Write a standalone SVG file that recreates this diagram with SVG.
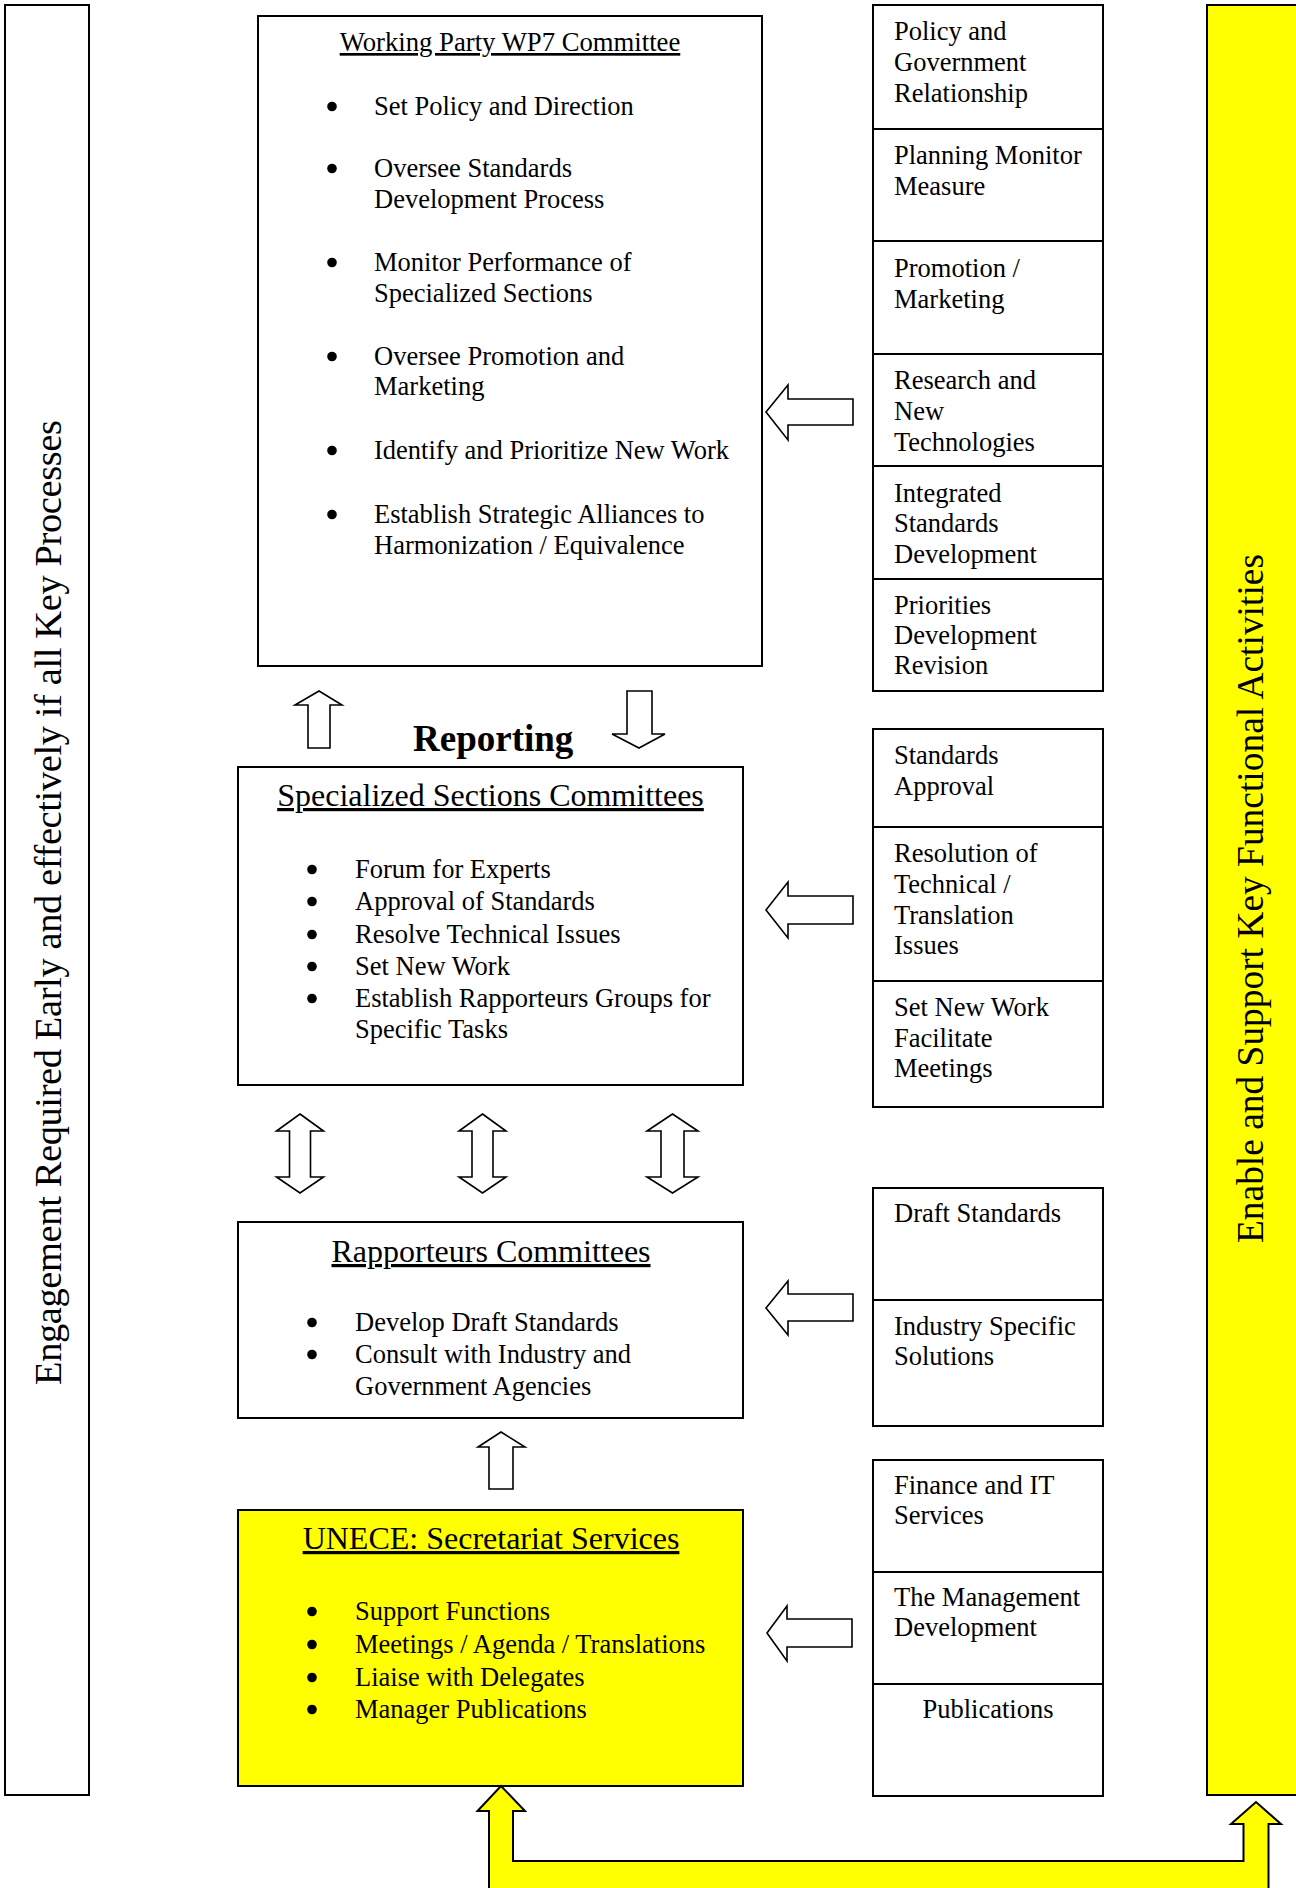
<svg xmlns="http://www.w3.org/2000/svg" width="1296" height="1888" viewBox="0 0 1296 1888">
<style>
.t{font-family:"Liberation Serif","Times New Roman",serif;font-size:26.5px;fill:#000}
.h{font-size:32px;text-decoration:underline}
.h1{font-size:26.7px;text-decoration:underline}
.box{fill:#fff;stroke:#000;stroke-width:2}
.ybox{fill:#ff0;stroke:#000;stroke-width:2}
.arr{fill:#fff;stroke:#000;stroke-width:1.6;stroke-linejoin:miter}
.yarr{fill:#ff0;stroke:#000;stroke-width:2;stroke-linejoin:miter}
</style>
<defs><circle id="dot" r="4.8" fill="#000"/></defs>
<rect width="1296" height="1888" fill="#fff"/>

<g id="side-left">
<rect class="box" x="5" y="5" width="84" height="1790"/>
<text class="t" style="font-size:38.5px" text-anchor="middle" textLength="965" transform="translate(61,902.5) rotate(-90)">Engagement Required Early and effectively if all Key Processes</text>
</g>

<g id="side-right">
<rect class="ybox" x="1207" y="5" width="100" height="1790"/>
<text class="t" style="font-size:37.3px" text-anchor="middle" textLength="689" transform="translate(1263,898.5) rotate(-90)">Enable and Support Key Functional Activities</text>
</g>

<g id="wp7">
<rect class="box" x="258" y="16" width="504" height="650"/>
<text class="t h1" x="510" y="51" text-anchor="middle">Working Party WP7 Committee</text>
<use href="#dot" x="332" y="106.5"/><text class="t" x="374" y="115">Set Policy and Direction</text>
<use href="#dot" x="332" y="168.5"/><text class="t" x="374" y="177">Oversee Standards</text>
<text class="t" x="374" y="208">Development Process</text>
<use href="#dot" x="332" y="262.5"/><text class="t" x="374" y="271">Monitor Performance of</text>
<text class="t" x="374" y="302">Specialized Sections</text>
<use href="#dot" x="332" y="356.5"/><text class="t" x="374" y="365">Oversee Promotion and</text>
<text class="t" x="374" y="395">Marketing</text>
<use href="#dot" x="332" y="450.5"/><text class="t" x="374" y="459">Identify and Prioritize New Work</text>
<use href="#dot" x="332" y="514.5"/><text class="t" x="374" y="523">Establish Strategic Alliances to</text>
<text class="t" x="374" y="554">Harmonization / Equivalence</text>
</g>

<g id="reporting">
<text class="t" style="font-size:37px;font-weight:bold" x="413" y="751">Reporting</text>
</g>

<g id="specialized">
<rect class="box" x="238" y="767" width="505" height="318"/>
<text class="t h" x="490.5" y="806" text-anchor="middle">Specialized Sections Committees</text>
<use href="#dot" x="312" y="869.5"/><text class="t" x="355" y="878">Forum for Experts</text>
<use href="#dot" x="312" y="901.5"/><text class="t" x="355" y="910">Approval of Standards</text>
<use href="#dot" x="312" y="934.5"/><text class="t" x="355" y="943">Resolve Technical Issues</text>
<use href="#dot" x="312" y="966.5"/><text class="t" x="355" y="975">Set New Work</text>
<use href="#dot" x="312" y="998.5"/><text class="t" x="355" y="1007">Establish Rapporteurs Groups for</text>
<text class="t" x="355" y="1038">Specific Tasks</text>
</g>

<g id="rapporteurs">
<rect class="box" x="238" y="1222" width="505" height="196"/>
<text class="t h" x="491" y="1262" text-anchor="middle">Rapporteurs Committees</text>
<use href="#dot" x="312" y="1322.5"/><text class="t" x="355" y="1331">Develop Draft Standards</text>
<use href="#dot" x="312" y="1354.5"/><text class="t" x="355" y="1363">Consult with Industry and</text>
<text class="t" x="355" y="1395">Government Agencies</text>
</g>

<g id="unece">
<rect class="ybox" x="238" y="1510" width="505" height="276"/>
<text class="t h" x="491" y="1549" text-anchor="middle">UNECE: Secretariat Services</text>
<use href="#dot" x="312" y="1611.5"/><text class="t" x="355" y="1620">Support Functions</text>
<use href="#dot" x="312" y="1644.5"/><text class="t" x="355" y="1653">Meetings / Agenda / Translations</text>
<use href="#dot" x="312" y="1677.5"/><text class="t" x="355" y="1686">Liaise with Delegates</text>
<use href="#dot" x="312" y="1709.5"/><text class="t" x="355" y="1718">Manager Publications</text>
</g>

<g id="func-policy"><rect class="box" x="873" y="5" width="230" height="124"/>
<text class="t" x="894" y="40">Policy and</text><text class="t" x="894" y="71">Government</text><text class="t" x="894" y="102">Relationship</text></g>
<g id="func-planning"><rect class="box" x="873" y="129" width="230" height="112"/>
<text class="t" x="894" y="164">Planning Monitor</text><text class="t" x="894" y="195">Measure</text></g>
<g id="func-promotion"><rect class="box" x="873" y="241" width="230" height="113"/>
<text class="t" x="894" y="277">Promotion /</text><text class="t" x="894" y="308">Marketing</text></g>
<g id="func-research"><rect class="box" x="873" y="354" width="230" height="112"/>
<text class="t" x="894" y="389">Research and</text><text class="t" x="894" y="420">New</text><text class="t" x="894" y="451">Technologies</text></g>
<g id="func-integrated"><rect class="box" x="873" y="466" width="230" height="113"/>
<text class="t" x="894" y="502">Integrated</text><text class="t" x="894" y="532">Standards</text><text class="t" x="894" y="563">Development</text></g>
<g id="func-priorities"><rect class="box" x="873" y="579" width="230" height="112"/>
<text class="t" x="894" y="614">Priorities</text><text class="t" x="894" y="644">Development</text><text class="t" x="894" y="674">Revision</text></g>

<g id="func-approval"><rect class="box" x="873" y="729" width="230" height="98"/>
<text class="t" x="894" y="764">Standards</text><text class="t" x="894" y="795">Approval</text></g>
<g id="func-resolution"><rect class="box" x="873" y="827" width="230" height="154"/>
<text class="t" x="894" y="862">Resolution of</text><text class="t" x="894" y="893">Technical /</text><text class="t" x="894" y="924">Translation</text><text class="t" x="894" y="954">Issues</text></g>
<g id="func-newwork"><rect class="box" x="873" y="981" width="230" height="126"/>
<text class="t" x="894" y="1016">Set New Work</text><text class="t" x="894" y="1047">Facilitate</text><text class="t" x="894" y="1077">Meetings</text></g>

<g id="func-draft"><rect class="box" x="873" y="1188" width="230" height="112"/>
<text class="t" x="894" y="1222">Draft Standards</text></g>
<g id="func-industry"><rect class="box" x="873" y="1300" width="230" height="126"/>
<text class="t" x="894" y="1335">Industry Specific</text><text class="t" x="894" y="1365">Solutions</text></g>

<g id="func-finance"><rect class="box" x="873" y="1460" width="230" height="112"/>
<text class="t" x="894" y="1494">Finance and IT</text><text class="t" x="894" y="1524">Services</text></g>
<g id="func-management"><rect class="box" x="873" y="1572" width="230" height="112"/>
<text class="t" x="894" y="1606">The Management</text><text class="t" x="894" y="1636">Development</text></g>
<g id="func-publications"><rect class="box" x="873" y="1684" width="230" height="112"/>
<text class="t" x="988" y="1718" text-anchor="middle">Publications</text></g>

<g id="connectors">
<path class="arr" d="M766,412 L788,385 L788,399 L853,399 L853,425 L788,425 L788,440 Z"/>
<path class="arr" d="M766,910 L788,882 L788,896 L853,896 L853,924 L788,924 L788,938 Z"/>
<path class="arr" d="M766,1308 L788,1281 L788,1294 L853,1294 L853,1321 L788,1321 L788,1335 Z"/>
<path class="arr" d="M767,1633 L787,1606 L787,1619 L852,1619 L852,1647 L787,1647 L787,1661 Z"/>
<path class="arr" d="M319,691 L342,705 L330,705 L330,748 L308,748 L308,705 L295,705 Z"/>
<path class="arr" d="M627,691 L652,691 L652,734 L665,734 L639,748 L612,734 L627,734 Z"/>
<path class="arr" d="M300,1114 L323.5,1131 L310.5,1131 L310.5,1177 L323.5,1177 L300,1193 L276.5,1177 L289.5,1177 L289.5,1131 L276.5,1131 Z"/>
<path class="arr" d="M482.5,1114 L506,1131 L493,1131 L493,1177 L506,1177 L482.5,1193 L459,1177 L472,1177 L472,1131 L459,1131 Z"/>
<path class="arr" d="M672.5,1114 L698,1131 L684,1131 L684,1177 L698,1177 L672.5,1193 L647,1177 L661,1177 L661,1131 L647,1131 Z"/>
<path class="arr" d="M501,1432 L525,1447 L513,1447 L513,1489 L489,1489 L489,1447 L478,1447 Z"/>
<path class="yarr" d="M489,1900 L489,1811 L477.5,1811 L501,1786 L525,1811 L513,1811 L513,1861 L1243.5,1861 L1243.5,1824 L1231,1824 L1256,1802 L1281,1824 L1268.5,1824 L1268.5,1900 Z"/>
</g>
</svg>
